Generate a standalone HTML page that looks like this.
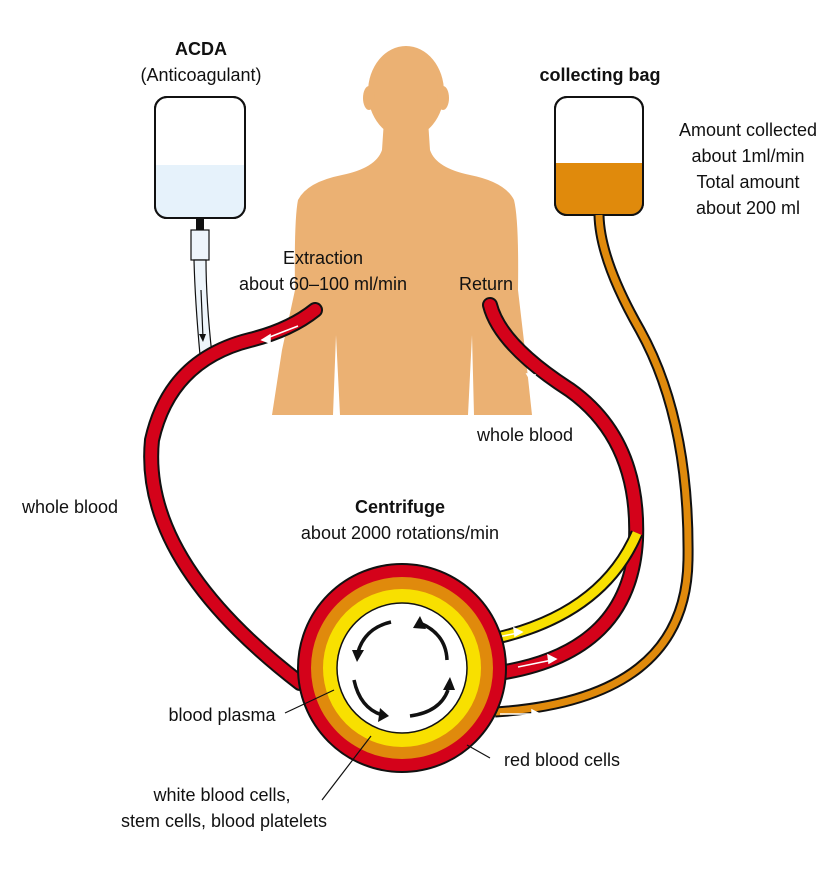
<!DOCTYPE html>
<html><head><meta charset="utf-8"><style>
html,body{margin:0;padding:0;background:#fff;width:840px;height:872px;overflow:hidden}
svg{display:block}
text{font-family:"Liberation Sans",sans-serif;font-size:18px;fill:#111}
</style></head><body>
<svg width="840" height="872" viewBox="0 0 840 872">
<!-- body -->
<ellipse cx="406" cy="92" rx="38" ry="46" fill="#ebb173"/>
<ellipse cx="369" cy="98" rx="6" ry="12" fill="#ebb173"/>
<ellipse cx="443" cy="98" rx="6" ry="12" fill="#ebb173"/>
<path fill="#ebb173" d="M384,120 L428,120 L430,150 Q436,168 470,175 Q505,182 514,200 Q519,220 518,290 L525,350 L532,415 L474,415 L472,335 L468,415 L340,415 L336,335 L333,415 L272,415 L282,350 L295,290 Q294,220 298,200 Q307,182 342,175 Q376,168 382,150 Z"/>
<!-- ACDA bag -->
<rect x="155" y="97" width="90" height="121" rx="12" fill="#fff" stroke="#111" stroke-width="2"/>
<path d="M156,165 H244 V206 Q244,217 233,217 H167 Q156,217 156,206 Z" fill="#e6f2fb"/>
<rect x="155" y="97" width="90" height="121" rx="12" fill="none" stroke="#111" stroke-width="2"/>
<rect x="196" y="218" width="8" height="12" fill="#111"/>
<rect x="191" y="230" width="18" height="30" fill="#eef5fb" stroke="#111" stroke-width="1.2"/>
<path d="M194,260 Q195,300 200,355 L212,355 Q206,300 206,260 Z" fill="#eef5fb" stroke="#111" stroke-width="1.2"/>
<path d="M201,290 L203,338" stroke="#111" stroke-width="1.2"/><path d="M199,334 L203,342 L206,334 Z" fill="#111"/>
<!-- collecting bag -->
<rect x="555" y="97" width="88" height="118" rx="12" fill="#fff" stroke="#111" stroke-width="2"/>
<path d="M556,163 H642 V203 Q642,214 631,214 H567 Q556,214 556,203 Z" fill="#e08a0c"/>
<rect x="555" y="97" width="88" height="118" rx="12" fill="none" stroke="#111" stroke-width="2"/>
<!-- orange tube -->
<path d="M599,215 Q600,260 640,330 Q690,420 688,560 Q686,700 495,712" fill="none" stroke="#111" stroke-width="11"/>
<path d="M599,215 Q600,260 640,330 Q690,420 688,560 Q686,700 495,712" fill="none" stroke="#e08a0c" stroke-width="7"/>
<!-- left red tube -->
<path d="M315,310 Q290,330 250,340 Q170,360 152,440 Q140,560 300,683" fill="none" stroke="#111" stroke-width="16" stroke-linecap="round"/>
<path d="M315,310 Q290,330 250,340 Q170,360 152,440 Q140,560 300,683" fill="none" stroke="#d4021a" stroke-width="12" stroke-linecap="round"/>
<!-- right red tube -->
<path d="M490,305 Q500,345 570,390 Q640,440 636,540 Q630,650 505,672" fill="none" stroke="#111" stroke-width="16" stroke-linecap="round"/>
<path d="M490,305 Q500,345 570,390 Q640,440 636,540 Q630,650 505,672" fill="none" stroke="#d4021a" stroke-width="12" stroke-linecap="round"/>
<!-- yellow tube -->
<path d="M478,642 Q600,620 637,533" fill="none" stroke="#111" stroke-width="13"/>
<path d="M478,642 Q600,620 637,533" fill="none" stroke="#f8e000" stroke-width="9"/>
<!-- white flow arrows -->
<g stroke="#fff" stroke-width="1.5" fill="#fff">
<path d="M298,326 L262,340" fill="none"/><path d="M262,340 L270,335 L270,343Z"/>
<path d="M185,600 L208,618" fill="none"/><path d="M211,620 L203,618 L207,612Z"/>
<path d="M560,395 L530,376" fill="none"/><path d="M527,374 L535,375 L531,381Z"/>
<path d="M610,310 L603,296" fill="none"/><path d="M601,292 L607,298 L600,300Z"/>
<path d="M483,640 L518,633" fill="none"/><path d="M522,632 L514,628 L515,636Z"/>
<path d="M518,667 L552,660" fill="none"/><path d="M556,659 L548,655 L549,663Z"/>
<path d="M500,714 L535,714" fill="none"/><path d="M540,714 L532,710 L532,718Z"/>
</g>
<!-- centrifuge -->
<circle cx="402" cy="668" r="104" fill="#d4021a" stroke="#111" stroke-width="2"/>
<circle cx="402" cy="668" r="91" fill="#e08a0c"/>
<circle cx="402" cy="668" r="79" fill="#f8e000"/>
<circle cx="402" cy="668" r="65" fill="#fff" stroke="#111" stroke-width="1.5"/>
<g fill="none" stroke="#111" stroke-width="3.5">
<path d="M391,622 Q365,628 358,652"/><path d="M420,623 Q446,634 447,660"/>
<path d="M354,680 Q360,708 382,715"/><path d="M410,716 Q440,712 448,690"/>
</g>
<g fill="#111">
<path d="M352,650 L364,650 L357,662Z"/><path d="M420,616 L413,628 L426,629Z"/>
<path d="M380,708 L389,716 L378,722Z"/><path d="M443,690 L455,690 L450,677Z"/>
</g>
<!-- pointer lines -->
<g stroke="#111" stroke-width="1.2">
<line x1="285" y1="713" x2="334" y2="690"/>
<line x1="322" y1="800" x2="371" y2="736"/>
<line x1="467" y1="745" x2="490" y2="758"/>
</g>
<!-- labels -->
<text x="201" y="55" text-anchor="middle" font-weight="bold">ACDA</text>
<text x="201" y="81" text-anchor="middle">(Anticoagulant)</text>
<text x="600" y="81" text-anchor="middle" font-weight="bold">collecting bag</text>
<text x="748" y="136" text-anchor="middle">Amount collected</text>
<text x="748" y="162" text-anchor="middle">about 1ml/min</text>
<text x="748" y="188" text-anchor="middle">Total amount</text>
<text x="748" y="214" text-anchor="middle">about 200 ml</text>
<text x="323" y="264" text-anchor="middle">Extraction</text>
<text x="323" y="290" text-anchor="middle">about 60–100 ml/min</text>
<text x="486" y="290" text-anchor="middle">Return</text>
<text x="525" y="441" text-anchor="middle">whole blood</text>
<text x="70" y="513" text-anchor="middle">whole blood</text>
<text x="400" y="513" text-anchor="middle" font-weight="bold">Centrifuge</text>
<text x="400" y="539" text-anchor="middle">about 2000 rotations/min</text>
<text x="222" y="721" text-anchor="middle">blood plasma</text>
<text x="562" y="766" text-anchor="middle">red blood cells</text>
<text x="222" y="801" text-anchor="middle">white blood cells,</text>
<text x="224" y="827" text-anchor="middle">stem cells, blood platelets</text>
</svg>
</body></html>
